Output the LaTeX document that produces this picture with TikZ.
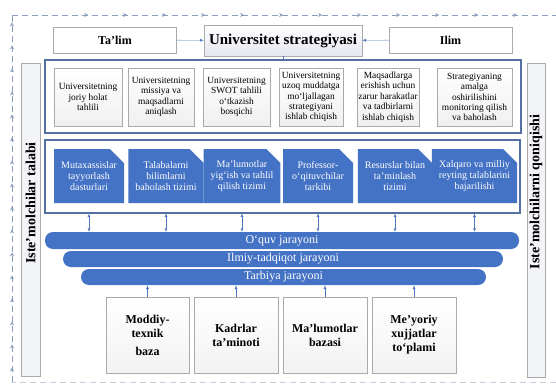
\documentclass[tikz,border=0pt]{standalone}
\usepackage{fontspec}
\setmainfont{Liberation Serif}
\usetikzlibrary{arrows.meta}
\usetikzlibrary{positioning,shapes.misc,decorations.markings}
\definecolor{boxblue}{RGB}{68,114,196}
\definecolor{framecol}{RGB}{84,112,160}
\definecolor{linecol}{RGB}{170,170,170}
\definecolor{loopcol}{RGB}{140,158,188}
\definecolor{arrowcol}{RGB}{80,120,190}
\definecolor{shadecol}{RGB}{228,231,240}
\begin{document}
\begin{tikzpicture}[
x=1pt,y=-1pt,
TopBox/.style={draw=linecol,fill=white,minimum width=123pt,minimum height=26pt,inner sep=0pt,font=\bfseries\fontsize{12}{14}\selectfont},
StratBox/.style={draw=linecol,top color=white,bottom color=shadecol,minimum width=158pt,minimum height=31pt,inner sep=0pt,font=\bfseries\fontsize{15}{17}\selectfont},
Frame/.style={draw=framecol,line width=1.2pt,fill=white},
GoalBox/.style={draw=linecol,top color=white,bottom color=black!6,minimum height=58pt,inner sep=0pt,align=center,font=\fontsize{9.4}{10.4}\selectfont},
TaskBox/.style={chamfered rectangle,chamfered rectangle corners=north east,chamfered rectangle xsep=7pt,chamfered rectangle ysep=7pt,fill=boxblue,text=white,minimum height=54pt,inner sep=0pt,align=center,font=\fontsize{10}{10.6}\selectfont},
Bar/.style={rectangle,rounded corners=8pt,fill=boxblue,text=white,inner sep=0pt,font=\fontsize{12}{14}\selectfont},
BaseBox/.style={draw=linecol,top color=white,bottom color=black!5,minimum width=84pt,minimum height=76pt,inner sep=0pt,align=center,font=\bfseries\fontsize{12}{14}\selectfont},
SideBox/.style={draw=linecol,fill=shadecol!45,inner sep=0pt},
SideText/.style={rotate=90,font=\bfseries\fontsize{14}{16}\selectfont},
Link/.style={draw=arrowcol,thin,-{Latex[length=4pt,width=3pt]}},
DblLink/.style={draw=arrowcol,thin,{Latex[length=3.5pt,width=3pt]}-{Latex[length=3.5pt,width=3pt]}},
Loop/.style={draw=loopcol,thin,dash pattern=on 6pt off 4pt}
]
\useasboundingbox (0,0) rectangle (556,383);

% feedback loop round the whole scheme
\coordinate (loopBL) at (12,382);
\coordinate (loopTL) at (12,15);
\coordinate (loopTR) at (556,15);
\coordinate (loopBR) at (556,382);
\draw[Loop,postaction={decorate},decoration={markings,
  mark=between positions 0.04 and 1 step 23pt with {\arrow{Stealth[length=4pt,width=4pt]}}}]
  (loopBL) -- (loopTL);
\draw[Loop,postaction={decorate},decoration={markings,
  mark=between positions 0.14 and 1 step 39pt with {\arrow{Stealth[length=4pt,width=4pt]}}}]
  (loopTL) -- (loopTR);
\draw[Loop,draw=loopcol!50] (loopBR) -- (loopBL);

% top row
\node[TopBox] (talim) at (115,40) {Ta’lim};
\node[StratBox] (strat) at (283,40.5) {Universitet strategiyasi};
\node[TopBox] (ilim) at (450.5,40) {Ilim};
\draw[Link] (talim) -- (strat);
\draw[Link] (ilim) -- (strat);

% side columns
\node[SideBox,minimum width=19pt,minimum height=313pt] (left) at (30.5,219.5) {};
\node[SideText] (lefttext) at (30.5,203) {Iste’molchilar talabi};
\node[SideBox,minimum width=18pt,minimum height=314pt] (right) at (536,220) {};
\node[SideText] (righttext) at (536,192) {Iste’molchilarni qoniqishi};

% strategy stages
\node[Frame,minimum width=476pt,minimum height=73pt] (goals) at (283,96.5) {};
\draw[draw=framecol] (strat.south) -- (strat.south |- goals.north);
\node[GoalBox,minimum width=68pt] (goal1) at (88,97) {Universitetning\\joriy holat\\tahlili};
\node[GoalBox,minimum width=66pt] (goal2) at (161,97) {Universitetning\\missiya va\\maqsadlarni\\aniqlash};
\node[GoalBox,minimum width=67pt] (goal3) at (236.5,97) {Universitetning\\SWOT tahlili\\o‘tkazish\\bosqichi};
\node[GoalBox,minimum width=64pt] (goal4) at (311,97) {Universitetning\\uzoq muddatga\\mo‘ljallagan\\strategiyani\\ishlab chiqish};
\node[GoalBox,minimum width=62pt] (goal5) at (388,97) {Maqsadlarga\\erishish uchun\\zarur harakatlar\\va tadbirlarni\\ishlab chiqish};
\node[GoalBox,minimum width=75pt] (goal6) at (474.5,97) {Strategiyaning\\amalga\\oshirilishini\\monitoring qilish\\va baholash};

% directions
\node[Frame,minimum width=475pt,minimum height=73pt] (tasks) at (282.5,176.5) {};
\node[TaskBox,minimum width=70pt] (task1) at (89,176) {Mutaxassislar\\tayyorlash\\dasturlari};
\node[TaskBox,minimum width=70pt] (task2) at (166,176) {Talabalarni\\bilimlarni\\baholash tizimi};
\node[TaskBox,minimum width=70pt] (task3) at (242,176) {Ma’lumotlar\\yig‘ish va tahlil\\qilish tizimi};
\node[TaskBox,minimum width=70pt] (task4) at (318,176) {Professor-\\o‘qituvchilar\\tarkibi};
\node[TaskBox,minimum width=70pt] (task5) at (395,176) {Resurslar bilan\\ta’minlash\\tizimi};
\node[TaskBox,minimum width=75pt] (task6) at (474.5,176) {Xalqaro va milliy\\reyting talablarini\\bajarilishi};

% processes
\node[Bar,minimum width=474pt,minimum height=17pt] (quv) at (282,240.5) {O‘quv jarayoni};
\node[Bar,minimum width=440pt,minimum height=16pt] (ilmiy) at (283,259) {Ilmiy-tadqiqot jarayoni};
\node[Bar,minimum width=405pt,minimum height=16pt] (tarbiya) at (283.5,277) {Tarbiya jarayoni};
\foreach \t in {1,...,6}
  \draw[DblLink] (task\t |- tasks.south) -- (task\t |- quv.north);

% resources
\node[BaseBox,minimum width=83pt] (base1) at (147.5,335) {Moddiy-\\texnik\\[4pt]baza};
\node[BaseBox] (base2) at (236,335) {Kadrlar\\ta’minoti};
\node[BaseBox] (base3) at (325,335) {Ma’lumotlar\\bazasi};
\node[BaseBox] (base4) at (414,335) {Me’yoriy\\xujjatlar\\to‘plami};
\foreach \b in {1,...,4}
  \draw[Link] (base\b.north) -- (base\b |- tarbiya.south);

\end{tikzpicture}
\end{document}
